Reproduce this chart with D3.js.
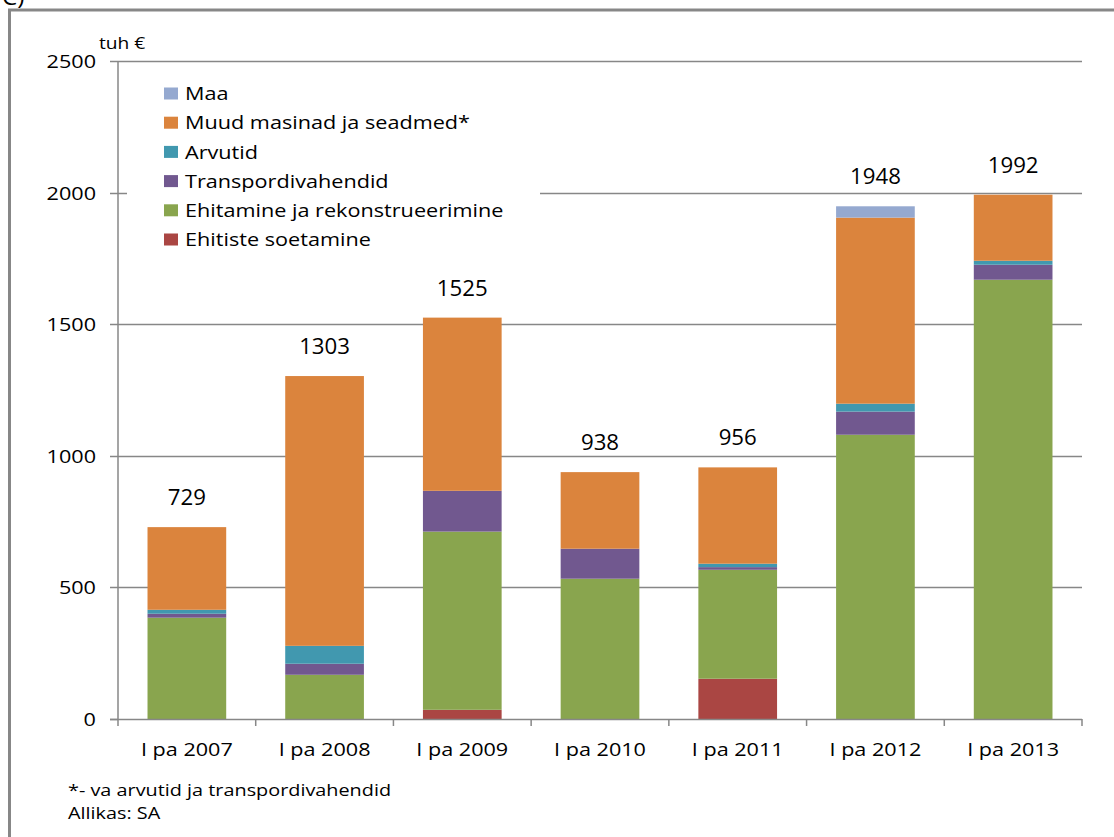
<!DOCTYPE html>
<html><head><meta charset="utf-8">
<script src="https://cdn.jsdelivr.net/npm/d3@7"></script>
<style>
html,body{margin:0;padding:0;background:#fff;overflow:hidden}
text{font-family:"Open Sans",sans-serif;fill:#000}
</style></head>
<body><svg id="c" width="1114" height="837"></svg>
<script>
const categories = ["I pa 2007","I pa 2008","I pa 2009","I pa 2010","I pa 2011","I pa 2012","I pa 2013"];
const seriesNames = ["Ehitiste soetamine","Ehitamine ja rekonstrueerimine","Transpordivahendid","Arvutid","Muud masinad ja seadmed*","Maa"];
const ehitisteSoetamine = [0,0,35,0,153,0,0];
const ehitamine = [385,168,677,533,414,1080,1669];
const transpordivahendid = [15,42,155,114,10,88,57];
const arvutid = [15,68,0,0,13,30,15];
const muudMasinad = [314,1025,658,291,366,707,251];
const maa = [0,0,0,0,0,43,0];
const totals = [729,1303,1525,938,956,1948,1992];
const yTicks = [0,500,1000,1500,2000,2500];
const colors = ["#AA4643","#89A54E","#71588F","#4198AF","#DB843D","#95A9D0"];

const seriesValues = [ehitisteSoetamine,ehitamine,transpordivahendid,arvutid,muudMasinad,maa];
const table = categories.map((c,i)=>{const o={cat:c};seriesNames.forEach((s,j)=>o[s]=seriesValues[j][i]);return o;});

const svg = d3.select("#c");
const L=118, R=1082, T=61, B=719;
const x = d3.scaleBand().domain(categories).range([L,R]).paddingInner(0.75/1.75).paddingOuter(0.375/1.75);
const y = d3.scaleLinear().domain([0,2500]).range([B,T]);
const gray="#878787";

function stext(g, str, px, py, size, sx, anchor){
  return g.append("text").text(str).attr("transform",`translate(${px},${py}) scale(${sx},1)`)
    .attr("font-size",size).attr("text-anchor",anchor||"start");
}

// outer frame
svg.append("line").attr("x1",9.5).attr("x2",9.5).attr("y1",9).attr("y2",837).attr("stroke",gray).attr("stroke-width",3);
svg.append("line").attr("x1",8).attr("x2",1114).attr("y1",10).attr("y2",10).attr("stroke",gray).attr("stroke-width",3);
stext(svg,"C)",2,5,22,1.1);

// gridlines
svg.append("g").selectAll("line").data(yTicks.filter(d=>d>0)).join("line")
  .attr("x1",L).attr("x2",R).attr("y1",d=>Math.round(y(d))+0.5).attr("y2",d=>Math.round(y(d))+0.5)
  .attr("stroke",gray).attr("stroke-width",1.5);

// stacked bars
const stack = d3.stack().keys(seriesNames)(table);
svg.append("g").selectAll("g").data(stack).join("g").attr("fill",(d,i)=>colors[i])
  .selectAll("rect").data(d=>d).join("rect")
  .attr("x",d=>x(d.data.cat)).attr("width",x.bandwidth())
  .attr("y",d=>y(d[1])).attr("height",d=>Math.max(0,y(d[0])-y(d[1])));

// legend (white box hides gridline)
const lg = svg.append("g");
lg.append("rect").attr("x",127).attr("y",74).attr("width",413).attr("height",182).attr("fill","#fff");
const legendOrder = seriesNames.map((s,i)=>({s,c:colors[i]})).reverse();
legendOrder.forEach((d,i)=>{
  const cy = 93.5 + i*29.2;
  lg.append("rect").attr("x",164).attr("y",cy-6).attr("width",14).attr("height",12).attr("fill",d.c);
  stext(lg,d.s,185,cy+6.6,18.5,1.17);
});

// axes
const yAxisG = svg.append("g");
yAxisG.append("line").attr("x1",L).attr("x2",L).attr("y1",T).attr("y2",B).attr("stroke",gray).attr("stroke-width",1.5);
yTicks.forEach(t=>{
  const yy=Math.round(y(t))+0.5;
  yAxisG.append("line").attr("x1",110).attr("x2",L).attr("y1",yy).attr("y2",yy).attr("stroke",gray).attr("stroke-width",1.5);
  stext(yAxisG,String(t),96,yy+6.6,18.5,1.17,"end");
});
stext(svg,"tuh €",99,48.5,16,1.2);

const xAxisG = svg.append("g");
xAxisG.append("line").attr("x1",110).attr("x2",R).attr("y1",B+0.5).attr("y2",B+0.5).attr("stroke",gray).attr("stroke-width",1.5);
d3.range(categories.length+1).forEach(i=>{
  const xx = L + i*x.step();
  xAxisG.append("line").attr("x1",xx).attr("x2",xx).attr("y1",B).attr("y2",B+7).attr("stroke",gray).attr("stroke-width",1.5);
});
categories.forEach(c=>stext(xAxisG,c,x(c)+x.bandwidth()/2,756,18,1.2,"middle"));

// totals labels
categories.forEach((c,i)=>stext(svg,String(totals[i]),x(c)+x.bandwidth()/2,y(totals[i])-22,21,1.06,"middle"));

// footnote
stext(svg,"*- va arvutid ja transpordivahendid",68,796,16,1.24);
stext(svg,"Allikas: SA",68,819,16,1.24);
</script></body></html>
